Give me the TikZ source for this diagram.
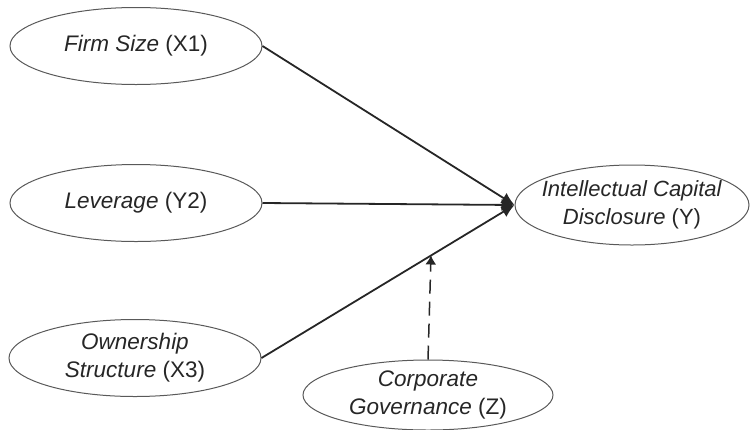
\documentclass[tikz,border=0pt]{standalone}
\usepackage{fontspec}
\setmainfont{Liberation Sans}
\usetikzlibrary{arrows.meta,shapes.geometric}

\begin{document}
\begin{tikzpicture}[x=1pt,y=-1pt,>=Latex]
\tikzset{
  var/.style={draw=black!65,line width=1pt,ellipse,minimum width=252pt,minimum height=77pt,inner sep=0pt,align=center,font=\fontsize{22.5}{28}\selectfont,text=black!85},
  link/.style={draw=black!85,line width=1.8pt,-{Latex[length=13pt,width=12pt]}},
}
\useasboundingbox (0,0) rectangle (752,429);
\node[var] (fs) at (136,46) {\textit{Firm Size} (X1)};
\node[var] (lev) at (136,203) {\textit{Leverage} (Y2)};
\node[var] (own) at (135,358) {\textit{Ownership}\\\textit{Structure} (X3)};
\node[var,minimum width=234pt,minimum height=80pt,inner xsep=-14pt,font=\fontsize{22}{28}\selectfont] (icd) at (632,205) {\textit{Intellectual Capital}\\\textit{Disclosure} (Y)};
\node[var,minimum width=250pt,minimum height=70pt] (cg) at (428,395) {\textit{Corporate}\\\textit{Governance} (Z)};
\draw[link] (fs.east) -- (icd.west);
\draw[link] (lev.east) -- (icd.west);
\draw[link] (own.east) -- (icd.west);
\path (own.east) -- (icd.west) coordinate[pos=0.67] (mod);
\draw[draw=black!85,line width=1.5pt,dash pattern=on 14pt off 8pt,-{Latex[length=9pt,width=11pt]}] (cg.north) -- (mod);
\end{tikzpicture}
\end{document}
